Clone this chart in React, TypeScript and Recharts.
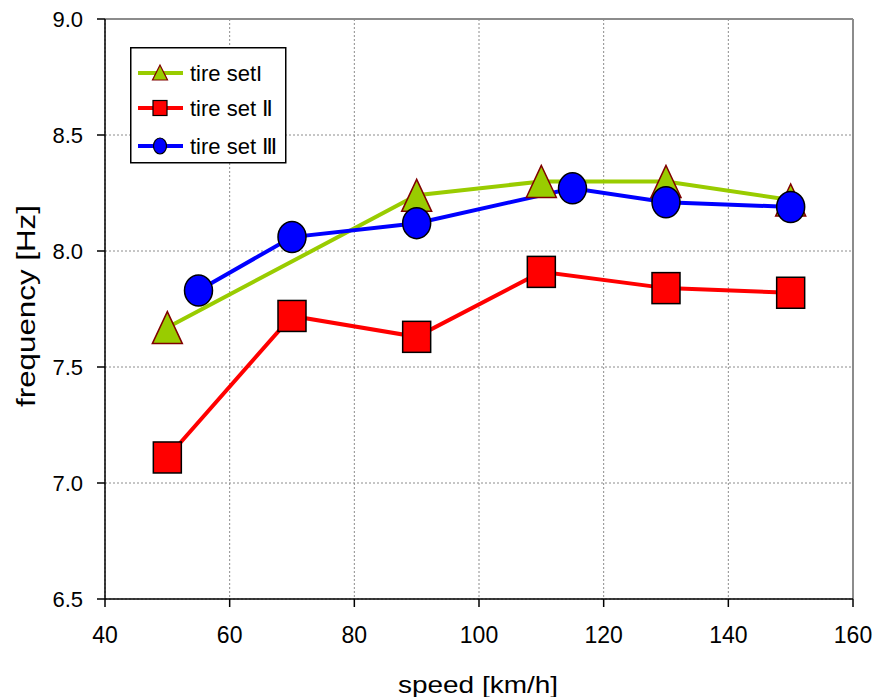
import React from 'react';
import { LineChart, Line, XAxis, YAxis, CartesianGrid, Legend, ReferenceLine } from 'recharts';

const xTicks = [40, 60, 80, 100, 120, 140, 160];
const yTicks = [6.5, 7.0, 7.5, 8.0, 8.5, 9.0];

const setISpeed = [50, 90, 110, 130, 150];
const setIFreq = [7.67, 8.24, 8.30, 8.30, 8.22];

const setIISpeed = [50, 70, 90, 110, 130, 150];
const setIIFreq = [7.11, 7.72, 7.63, 7.91, 7.84, 7.82];

const setIIISpeed = [55, 70, 90, 115, 130, 150];
const setIIIFreq = [7.83, 8.06, 8.12, 8.27, 8.21, 8.19];

const seriesNames = ['tire setI', 'tire set Ⅱ', 'tire set Ⅲ'];

const toRows = (xs: number[], ys: number[]) => xs.map((x, i) => ({ speed: x, freq: ys[i] }));
const dataI = toRows(setISpeed, setIFreq);
const dataII = toRows(setIISpeed, setIIFreq);
const dataIII = toRows(setIIISpeed, setIIIFreq);

const GREEN = '#99CC00';
const RED = '#FF0000';
const BLUE = '#0000FF';
const FONT = '"Liberation Sans", Arial, sans-serif';

const TriangleDot = (p: any) => {
  const { cx, cy, key } = p;
  if (cx == null || cy == null) return <g key={key} />;
  return (
    <polygon
      key={key}
      points={`${cx},${cy - 16} ${cx - 15},${cy + 16} ${cx + 15},${cy + 16}`}
      fill={GREEN}
      stroke="#800000"
      strokeWidth={1.5}
    />
  );
};

const SquareDot = (p: any) => {
  const { cx, cy, key } = p;
  if (cx == null || cy == null) return <g key={key} />;
  return <rect key={key} x={cx - 14} y={cy - 15.5} width={28} height={31} fill={RED} stroke="#000" strokeWidth={1.5} />;
};

const CircleDot = (p: any) => {
  const { cx, cy, key } = p;
  if (cx == null || cy == null) return <g key={key} />;
  return <ellipse key={key} cx={cx} cy={cy} rx={14} ry={15.5} fill={BLUE} stroke="#000" strokeWidth={1.5} />;
};

const LegendBox = () => {
  const rows = [
    { y: 26, color: GREEN, kind: 'tri' },
    { y: 61, color: RED, kind: 'sq' },
    { y: 99, color: BLUE, kind: 'circ' },
  ];
  return (
    <svg width={157} height={117} style={{ display: 'block' }}>
      <rect x={0.75} y={0.75} width={155} height={115} fill="#fff" stroke="#000" strokeWidth={1.5} />
      {rows.map((r, i) => (
        <g key={i}>
          <line x1={8} x2={53} y1={r.y} y2={r.y} stroke={r.color} strokeWidth={4} />
          {r.kind === 'tri' && (
            <polygon
              points={`30,${r.y - 8} 22.5,${r.y + 7} 37.5,${r.y + 7}`}
              fill={GREEN}
              stroke="#800000"
              strokeWidth={1.2}
            />
          )}
          {r.kind === 'sq' && (
            <rect x={23} y={r.y - 7.5} width={14} height={15} fill={RED} stroke="#000" strokeWidth={1.2} />
          )}
          {r.kind === 'circ' && (
            <ellipse cx={30} cy={r.y} rx={6.5} ry={8} fill={BLUE} stroke="#000" strokeWidth={1.2} />
          )}
          <text x={60} y={r.y} dominantBaseline="central" fontFamily={FONT} fontSize={22} fill="#000">
            {seriesNames[i]}
          </text>
        </g>
      ))}
    </svg>
  );
};

const YTitle = (props: any) => {
  const vb = props.viewBox || { x: 0, y: 19, width: 105, height: 580 };
  const x = vb.x + 26;
  const y = vb.y + vb.height / 2 - 3;
  return (
    <text
      x={x}
      y={y}
      transform={`rotate(-90, ${x}, ${y})`}
      textAnchor="middle"
      dominantBaseline="central"
      fontFamily={FONT}
      fontSize={26}
      textLength={202}
      lengthAdjust="spacingAndGlyphs"
      fill="#000"
    >
      frequency [Hz]
    </text>
  );
};

const XTitle = (props: any) => {
  const vb = props.viewBox || { x: 105, y: 599, width: 748, height: 98 };
  const x = vb.x + vb.width / 2 - 1;
  const y = vb.y + 85;
  return (
    <text
      x={x}
      y={y}
      textAnchor="middle"
      dominantBaseline="central"
      fontFamily={FONT}
      fontSize={24}
      textLength={160}
      lengthAdjust="spacingAndGlyphs"
      fill="#000"
    >
      speed [km/h]
    </text>
  );
};

export default function App() {
  return (
    <div style={{ position: 'absolute', left: 0, top: 0, width: 877, height: 697, background: '#fff' }}>
      <LineChart width={877} height={697} margin={{ top: 19, right: 24, bottom: 0, left: 0 }}>
        <CartesianGrid stroke="#8c8c8c" strokeDasharray="2 2" strokeWidth={1} />
        <XAxis
          type="number"
          dataKey="speed"
          domain={[40, 160]}
          ticks={xTicks}
          allowDataOverflow
          height={98}
          tickSize={8}
          tickMargin={20}
          axisLine={{ stroke: '#000', strokeWidth: 1.5 }}
          tickLine={{ stroke: '#000', strokeWidth: 1.5 }}
          tick={{ fill: '#000', fontSize: 23, fontFamily: FONT }}
          label={<XTitle />}
        />
        <YAxis
          type="number"
          dataKey="freq"
          domain={[6.5, 9]}
          ticks={yTicks}
          allowDataOverflow
          width={105}
          tickSize={8}
          tickMargin={14}
          tickFormatter={(v: number) => v.toFixed(1)}
          axisLine={{ stroke: '#000', strokeWidth: 1.5 }}
          tickLine={{ stroke: '#000', strokeWidth: 1.5 }}
          tick={{ fill: '#000', fontSize: 22, fontFamily: FONT }}
          label={<YTitle />}
        />
        <ReferenceLine y={9} stroke="#8c8c8c" strokeWidth={2} />
        <ReferenceLine x={160} stroke="#8c8c8c" strokeWidth={2} />
        <Legend
          layout="vertical"
          align="center"
          verticalAlign="middle"
          content={() => <LegendBox />}
          wrapperStyle={{ left: 130, top: 47, width: 157, height: 117, right: 'auto', bottom: 'auto' }}
        />
        <Line
          data={dataI}
          dataKey="freq"
          name={seriesNames[0]}
          stroke={GREEN}
          strokeWidth={4}
          dot={TriangleDot}
          activeDot={false}
          isAnimationActive={false}
        />
        <Line
          data={dataII}
          dataKey="freq"
          name={seriesNames[1]}
          stroke={RED}
          strokeWidth={4}
          dot={SquareDot}
          activeDot={false}
          isAnimationActive={false}
        />
        <Line
          data={dataIII}
          dataKey="freq"
          name={seriesNames[2]}
          stroke={BLUE}
          strokeWidth={4}
          dot={CircleDot}
          activeDot={false}
          isAnimationActive={false}
        />
      </LineChart>
    </div>
  );
}
